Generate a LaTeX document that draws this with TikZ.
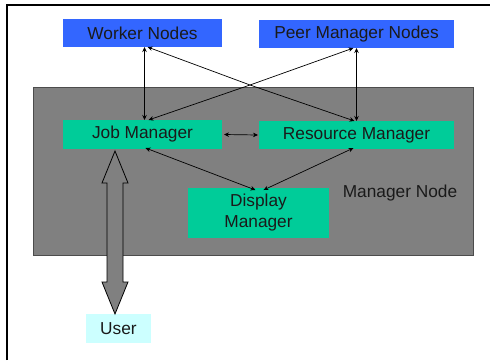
\documentclass[tikz,border=0pt]{standalone}
\usepackage{fontspec}
\setmainfont{Liberation Sans}
\usetikzlibrary{arrows.meta}
\definecolor{nodeblue}{HTML}{3366FF}
\definecolor{mgrgreen}{HTML}{00CC99}
\definecolor{usercyan}{HTML}{CCFFFF}
\definecolor{mgrgray}{HTML}{808080}
\definecolor{txt}{HTML}{1A1A1A}
\begin{document}
\begin{tikzpicture}[x=1pt,y=-1pt,
  box/.style={inner sep=0pt, outer sep=0pt, text=txt, font=\fontsize{17.3}{21}\selectfont, align=center},
  bluebox/.style={box, fill=nodeblue},
  greenbox/.style={box, fill=mgrgreen},
  conn/.style={{Stealth[length=5pt,width=4.5pt]}-{Stealth[length=5pt,width=4.5pt]}, black, line width=0.7pt}
]
\useasboundingbox (0,0) rectangle (490,360);
\fill[white] (0,0) rectangle (490,360);
% outer frame
\draw[line width=2.2pt, black] (7,360) -- (7,5) -- (490,5);
% manager node container
\node[box, fill=mgrgray, draw=black!70, line width=0.8pt, minimum width=440pt, minimum height=168pt] (mgr) at (253,171) {};
\node[box, text=txt] (mgrlabel) at (400,193) {Manager Node};
% top nodes
\node[bluebox, minimum width=159pt, minimum height=28pt] (worker) at (142.5,33) {Worker Nodes};
\node[bluebox, minimum width=195pt, minimum height=28pt] (peer) at (356.5,34) {Peer Manager Nodes};
% manager components
\node[greenbox, minimum width=159pt, minimum height=29pt] (job) at (142.5,134.5) {Job Manager};
\node[greenbox, minimum width=195pt, minimum height=28pt] (res) at (356.5,135) {Resource Manager};
\node[greenbox, minimum width=141pt, minimum height=50pt] (disp) at (258.5,213) {Display\\Manager};
% user
\node[box, fill=usercyan, minimum width=65pt, minimum height=29pt] (user) at (118.5,328.5) {User};
% connectors
\draw[conn] ([xshift=2pt]worker.south) -- ([xshift=2pt]job.north);
\draw[conn] (peer.south) -- (res.north);
\coordinate (cross) at (250,85);
\draw[conn] ([xshift=5pt]worker.south) -- (cross) -- ([xshift=-2pt]res.north);
\draw[conn] ([xshift=-3pt]peer.south) -- (cross) -- ([xshift=6pt]job.north);
\path (job.east) ++(2,0) coordinate (je) (res.west) ++(-1,0) coordinate (rw);
\draw[conn] (je) -- (rw);
\draw[conn] ([xshift=3pt,yshift=1pt]job.south) -- ([xshift=-3pt,yshift=-2pt]disp.north);
\draw[conn] ([xshift=-3pt,yshift=1pt]res.south) -- ([xshift=5pt,yshift=-2pt]disp.north);
% big double arrow between Job Manager and User
\coordinate (ut) at (115,151);
\coordinate (ub) at (115,314);
\draw[fill=mgrgray, draw=black, line width=0.8pt]
  (ut) -- ++(-13,32) -- ++(5,0) -- ++(0,99) -- ++(-5,0) -- (ub)
  -- ++(13,-32) -- ++(-5,0) -- ++(0,-99) -- ++(5,0) -- cycle;
\end{tikzpicture}
\end{document}
